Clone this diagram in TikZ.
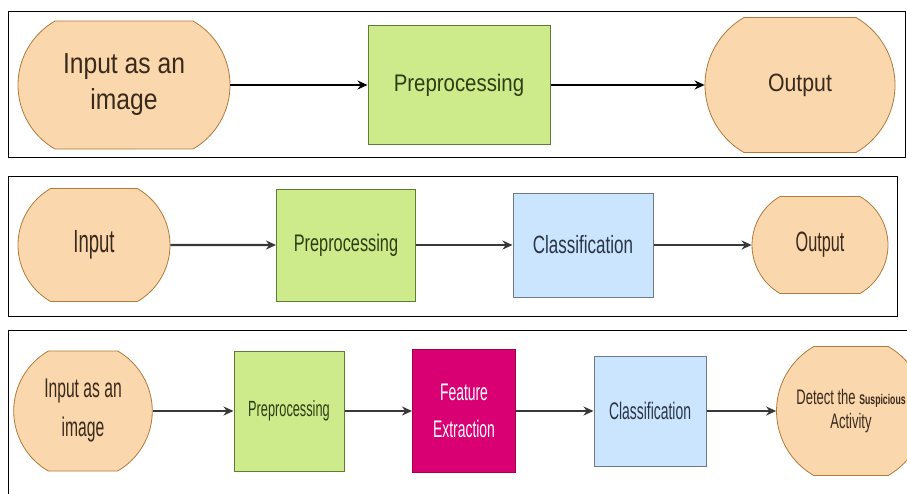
\documentclass[tikz,border=0pt]{standalone}
\usepackage{fontspec}
\newfontfamily\widefont[FakeStretch=0.85]{Liberation Sans}
\newfontfamily\midfont[FakeStretch=0.68]{Liberation Sans}
\newfontfamily\detfont[FakeStretch=0.62]{Liberation Sans}
\newfontfamily\narrowfont[FakeStretch=0.58]{Liberation Sans}
\usetikzlibrary{arrows.meta, positioning, shapes.misc}
\definecolor{termfill}{HTML}{FAD7AC}
\definecolor{termline}{HTML}{B07A3C}
\definecolor{termtext}{HTML}{3A2A1C}
\definecolor{procfill}{HTML}{CDEB8B}
\definecolor{procline}{HTML}{5E7D34}
\definecolor{proctext}{HTML}{2E3D14}
\definecolor{clsfill}{HTML}{CCE5FF}
\definecolor{clsline}{HTML}{6C7A89}
\definecolor{clstext}{HTML}{2A3545}
\definecolor{feafill}{HTML}{D80073}
\definecolor{fealine}{HTML}{A50040}
\newcommand{\fs}[2]{\fontsize{#1}{#2}\selectfont}

\begin{document}
\begin{tikzpicture}[x=1pt, y=-1pt,
  term/.style={rounded rectangle, rounded rectangle arc length=120,
               draw=termline, fill=termfill, line width=0.8pt, inner sep=0pt,
               align=center, text=termtext},
  proc/.style={rectangle, draw=procline, fill=procfill, line width=1pt,
               inner sep=0pt, align=center, text=proctext},
  cls/.style={rectangle, draw=clsline, fill=clsfill, line width=1pt,
              inner sep=0pt, align=center, text=clstext},
  fea/.style={rectangle, draw=fealine, fill=feafill, line width=1pt,
              inner sep=0pt, align=center, text=white},
  frame/.style={draw=black, line width=0.8pt},
  arr/.style={-{Stealth[length=10pt, width=9pt]}, line width=2.4pt, draw=black!78}
]
  \clip (0,0) rectangle (907,493);
  \fill[white] (0,0) rectangle (907,493);

  % Panel frames
  \draw[frame] (8,11) rectangle (905,157);
  \draw[frame] (8,176) rectangle (897,316);
  \draw[frame] (8,330) rectangle (915,505);

  % Panel 1: input -> preprocessing -> output
  \node[term, minimum width=212pt, minimum height=128pt, font={\widefont\fs{29}{36}}]
    (in1) at (124,85) {Input as an\\image};
  \node[proc, minimum width=182pt, minimum height=119pt, font={\widefont\fs{24}{29}}]
    (pre1) at (459,85) {Preprocessing};
  \node[term, minimum width=190pt, minimum height=135pt, font={\widefont\fs{25}{30}}]
    (out1) at (800,85) {Output};
  \draw[arr, draw=black, line width=2pt] (in1) -- (pre1);
  \draw[arr, draw=black, line width=2pt] (pre1) -- (out1);

  % Panel 2: input -> preprocessing -> classification -> output
  \node[term, minimum width=152pt, minimum height=113pt, font={\narrowfont\fs{32}{38}}]
    (in2) at (94,245) {Input};
  \node[proc, minimum width=139pt, minimum height=112pt, font={\midfont\fs{24}{29}}]
    (pre2) at (346,245) {Preprocessing};
  \node[cls, minimum width=140pt, minimum height=104pt, font={\midfont\fs{25}{30}}]
    (cls2) at (583,245) {Classification};
  \node[term, minimum width=136pt, minimum height=97pt, font={\narrowfont\fs{28}{33}}]
    (out2) at (820,245) {Output};
  \draw[arr] (in2) -- (pre2);
  \draw[arr] (pre2) -- (cls2);
  \draw[arr] (cls2) -- (out2);

  % Panel 3: full pipeline
  \node[term, minimum width=127pt, minimum height=120pt, font={\narrowfont\fs{27}{39}}]
    (in3) at (83,411) {Input as an\\image};
  \node[proc, minimum width=110pt, minimum height=120pt, font={\narrowfont\fs{22}{27}}]
    (pre3) at (289,411) {Preprocessing};
  \node[fea, minimum width=103pt, minimum height=123pt, font={\narrowfont\fs{24}{37}}]
    (fea3) at (464,411) {Feature\\Extraction};
  \node[cls, minimum width=112pt, minimum height=110pt, font={\narrowfont\fs{24}{29}}]
    (cls3) at (650,411) {Classification};
  \node[term, minimum width=112pt, minimum height=129pt, font={\detfont\fs{21}{24}}]
    (det3) at (851,411) {Detect the {\bfseries\fs{14}{24}Suspicious}\\Activity};
  \draw[arr] (in3) -- (pre3);
  \draw[arr] (pre3) -- (fea3);
  \draw[arr] (fea3) -- (cls3);
  \draw[arr] (cls3) -- (det3);
\end{tikzpicture}
\end{document}
